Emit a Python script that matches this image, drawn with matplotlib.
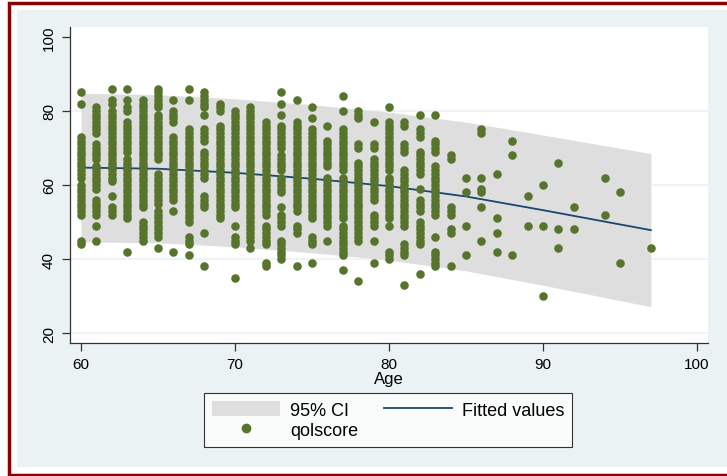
import matplotlib.pyplot as plt
import matplotlib.patches as mpatches
from matplotlib.lines import Line2D
import numpy as np

plt.rcParams["font.family"] = ["Liberation Sans", "DejaVu Sans"]

# qolscore values, one list per age (years)
q60 = [85, 82, 73, 72, 71, 70, 69, 68, 67, 66, 65, 64, 63, 62, 60, 59, 58, 57, 56, 55, 54, 53, 52, 45, 44]
q61 = [81, 80, 79, 78, 77, 76, 75, 74, 71, 70, 69, 68, 67, 65, 64, 63, 62, 61, 60, 59, 56, 55, 54, 53, 52, 49, 45]
q62 = [86, 83, 82, 80, 79, 78, 77, 76, 75, 74, 73, 72, 71, 70, 69, 68, 67, 66, 65, 64, 63, 62, 61, 57, 54, 53, 52]
q63 = [86, 83, 81, 80, 77, 76, 75, 74, 73, 72, 71, 70, 69, 67, 66, 65, 64, 63, 62, 61, 60, 59, 58, 57, 56, 55, 54,
       53, 52, 51, 42]
q64 = [83, 82, 81, 80, 79, 78, 77, 76, 75, 74, 73, 72, 71, 70, 69, 68, 67, 66, 65, 64, 63, 62, 61, 60, 59, 58, 57,
       56, 55, 54, 50, 49, 48, 47, 46, 45]
q65 = [86, 85, 84, 83, 82, 81, 79, 78, 77, 76, 75, 74, 73, 72, 71, 70, 69, 68, 67, 63, 62, 61, 60, 59, 58, 57, 56,
       55, 53, 52, 51, 50, 49, 48, 47, 46, 43]
q66 = [83, 80, 79, 78, 77, 73, 72, 71, 70, 69, 68, 67, 66, 65, 64, 63, 62, 61, 60, 59, 58, 57, 56, 53, 42]
q67 = [86, 83, 75, 74, 73, 72, 71, 70, 69, 68, 67, 66, 65, 64, 63, 62, 61, 60, 59, 58, 57, 56, 55, 54, 53, 52, 51,
       50, 46, 45, 44, 41]
q68 = [85, 84, 83, 82, 81, 79, 75, 74, 73, 72, 69, 68, 67, 66, 65, 64, 63, 62, 57, 56, 55, 54, 47, 38]
q69 = [82, 81, 80, 76, 75, 74, 73, 72, 71, 70, 69, 68, 67, 66, 65, 64, 63, 62, 61, 60, 59, 58, 57, 56, 55, 54, 53,
       52, 51]
q70 = [80, 79, 78, 77, 76, 75, 74, 73, 72, 71, 70, 69, 68, 67, 66, 65, 64, 63, 62, 61, 60, 59, 58, 57, 56, 55, 54,
       49, 46, 45, 44, 35]
q71 = [81, 80, 79, 78, 77, 76, 75, 74, 73, 72, 71, 70, 69, 68, 67, 66, 65, 64, 63, 62, 61, 60, 59, 58, 57, 56, 55,
       54, 53, 52, 51, 50, 49, 48, 47, 46, 45, 43]
q72 = [77, 76, 75, 74, 73, 72, 71, 70, 69, 68, 67, 66, 65, 64, 63, 62, 61, 60, 59, 58, 57, 56, 55, 54, 53, 52, 49,
       48, 47, 46, 45, 44, 39, 38]
q73 = [85, 82, 79, 76, 75, 74, 73, 72, 71, 70, 68, 67, 66, 65, 64, 62, 61, 60, 59, 58, 54, 52, 51, 50, 49, 45, 44,
       43, 42, 41, 40]
q74 = [83, 77, 76, 75, 74, 73, 72, 71, 70, 69, 68, 67, 66, 65, 64, 63, 62, 61, 60, 59, 58, 57, 56, 55, 54, 53, 49,
       48, 47, 38]
q75 = [81, 78, 75, 74, 73, 72, 71, 70, 69, 68, 67, 66, 65, 64, 63, 62, 61, 60, 59, 58, 57, 56, 55, 54, 53, 52, 51,
       46, 45, 44, 39]
q76 = [76, 72, 71, 70, 69, 68, 67, 66, 65, 62, 61, 60, 59, 58, 57, 56, 55, 54, 53, 52, 51, 50, 49, 45]
q77 = [84, 80, 75, 74, 73, 72, 71, 70, 69, 68, 67, 66, 65, 64, 62, 61, 60, 59, 58, 57, 56, 55, 54, 53, 52, 51, 49,
       48, 47, 46, 45, 44, 43, 42, 41, 37]
q78 = [80, 79, 78, 71, 70, 66, 65, 64, 63, 62, 61, 60, 59, 58, 57, 56, 55, 54, 53, 52, 51, 50, 49, 48, 47, 46, 45, 34]
q79 = [77, 71, 70, 67, 66, 65, 64, 63, 62, 61, 60, 59, 58, 57, 56, 52, 51, 50, 49, 45, 39]
q80 = [81, 77, 76, 75, 74, 73, 72, 71, 70, 69, 68, 67, 66, 65, 64, 62, 61, 60, 59, 58, 57, 56, 55, 54, 53, 52, 51,
       49, 42, 41, 40]
q81 = [77, 76, 71, 70, 69, 64, 63, 62, 61, 60, 59, 58, 57, 56, 55, 54, 53, 52, 51, 50, 49, 44, 43, 42, 41, 33]
q82 = [79, 75, 74, 73, 69, 68, 67, 66, 65, 64, 63, 59, 56, 55, 54, 53, 50, 49, 48, 47, 46, 45, 44, 36]
q83 = [79, 72, 71, 70, 69, 65, 64, 63, 62, 61, 60, 59, 58, 57, 56, 55, 54, 53, 52, 46, 42, 41, 40, 39, 38]
q84 = [68, 67, 54, 53, 52, 48, 47, 38]
q85 = [62, 58, 49, 41]
q86 = [75, 74, 62, 59, 58, 54, 45]
q87 = [63, 51, 47, 42]
q88 = [72, 68, 41]
q89 = [57, 49]
q90 = [60, 49, 30]
q91 = [66, 48, 43]
q92 = [54, 48]
q94 = [62, 52]
q95 = [58, 39]
q97 = [43]

ages = [60, 61, 62, 63, 64, 65, 66, 67, 68, 69, 70, 71, 72, 73, 74, 75, 76, 77, 78,
        79, 80, 81, 82, 83, 84, 85, 86, 87, 88, 89, 90, 91, 92, 94, 95, 97]
columns = [q60, q61, q62, q63, q64, q65, q66, q67, q68, q69, q70, q71, q72, q73, q74, q75, q76, q77, q78,
           q79, q80, q81, q82, q83, q84, q85, q86, q87, q88, q89, q90, q91, q92, q94, q95, q97]

# fitted values and 95% CI bounds
fit_age = [60, 65, 70, 75, 80, 85, 90, 97]
fit_val = [64.7, 64.4, 63.3, 61.7, 59.7, 56.9, 53.2, 47.8]
ci_upper = [84.8, 84.4, 83.3, 81.7, 79.7, 77.0, 73.5, 68.5]
ci_lower = [44.6, 44.4, 43.3, 41.7, 39.7, 36.8, 32.9, 27.1]

GREEN = "#56742c"
NAVY = "#1a476f"
CI_GRAY = "#dedede"
PANEL = "#eaf2f3"
BORDER = "#8b0000"

age = np.concatenate([[a] * len(c) for a, c in zip(ages, columns)])
qol = np.concatenate(columns)

W, H = 727, 477
fig = plt.figure(figsize=(W / 100, H / 100), dpi=100)
fig.patch.set_facecolor("white")

# outer frame (maroon) and graph region
fig.add_artist(mpatches.Rectangle((8.5 / W, 1 - 476 / H), 800 / W, 472 / H, transform=fig.transFigure,
                                  facecolor="white", edgecolor=BORDER, linewidth=2.5, zorder=0))
fig.add_artist(mpatches.Rectangle((17 / W, 1 - 468 / H), 720 / W, 457 / H, transform=fig.transFigure,
                                  facecolor=PANEL, edgecolor="none", zorder=0.5))

ax = fig.add_axes([70 / W, 1 - 344 / H, (708 - 70) / W, (344 - 28) / H])
ax.set_zorder(2)
ax.set_facecolor("white")

ax.fill_between(fit_age, ci_lower, ci_upper, color=CI_GRAY, linewidth=0, zorder=2)
ax.plot(fit_age, fit_val, color=NAVY, linewidth=1.3, zorder=3)
ax.scatter(age, qol, s=38, color=GREEN, linewidths=0, zorder=4)

ax.set_xlim(59.29, 100.71)
ax.set_ylim(17.3, 102.7)
ax.set_xticks([60, 70, 80, 90, 100])
ax.set_yticks([20, 40, 60, 80, 100])
for v in [20, 40, 60, 80]:
    ax.axhline(v, color=PANEL, linewidth=1.2, zorder=1)

ax.tick_params(axis="both", direction="out", length=6, width=0.9, color="#333333", labelsize=11, pad=4)
for lab in ax.get_yticklabels():
    lab.set_rotation(90)
    lab.set_va("center")
    lab.set_ha("right")
for spine in ("top", "right"):
    ax.spines[spine].set_visible(False)
for spine in ("left", "bottom"):
    ax.spines[spine].set_linewidth(0.9)
    ax.spines[spine].set_color("#333333")

ax.set_xlabel("Age", fontsize=12, labelpad=0)

handles = [
    mpatches.Patch(facecolor=CI_GRAY, edgecolor="none", label="95% CI"),
    Line2D([], [], marker="o", linestyle="none", color=GREEN, markersize=6, label="qolscore"),
    Line2D([], [], color=NAVY, linewidth=1.3, label="Fitted values"),
]
leg = fig.legend(
    handles=handles,
    loc="upper left",
    bbox_to_anchor=(204 / W, 1 - 394 / H),
    ncol=2,
    frameon=True,
    fancybox=False,
    edgecolor="black",
    fontsize=13,
    handlelength=3.75,
    handleheight=0.88,
    handletextpad=0.55,
    columnspacing=1.45,
    labelspacing=0.15,
    borderpad=0.45,
    borderaxespad=0,
)
leg.get_frame().set_linewidth(0.8)
leg.set_zorder(3)

fig.savefig("out.png", dpi=100)
